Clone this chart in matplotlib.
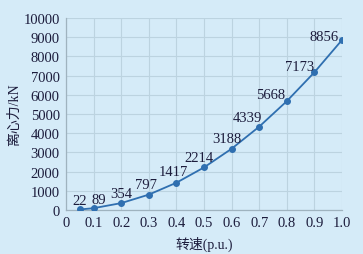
import matplotlib
matplotlib.use('Agg')
import matplotlib.pyplot as plt

speed = [0.05, 0.1, 0.2, 0.3, 0.4, 0.5, 0.6, 0.7, 0.8, 0.9, 1.0]
force = [22, 89, 354, 797, 1417, 2214, 3188, 4339, 5668, 7173, 8856]
xticks = [0, 0.1, 0.2, 0.3, 0.4, 0.5, 0.6, 0.7, 0.8, 0.9, 1.0]
xtick_labels = ['0', '0.1', '0.2', '0.3', '0.4', '0.5', '0.6', '0.7', '0.8', '0.9', '1.0']
yticks = list(range(0, 10001, 1000))

# label offsets in pixels (dx, dy) relative to each point
offsets = [(0, 9), (5, 9), (0, 10), (-3, 10), (-3, 11), (-5, 10),
           (-5, 10), (-12, 9), (-16, 7), (-15, 6), (-18, 4)]

fonts = ['Liberation Serif', 'Noto Sans CJK SC']
plt.rcParams['font.family'] = fonts
bg = '#d5ebf8'
txt = '#1c1c3c'

fig = plt.figure(figsize=(3.63, 2.55), dpi=100, facecolor=bg)
ax = fig.add_axes([0.182, 0.173, 0.76, 0.752], facecolor=bg)

ax.plot(speed, force, color='#2f6fb0', lw=1.3, marker='o', ms=4, zorder=3)
for x, y, (dx, dy) in zip(speed, force, offsets):
    ax.annotate(str(y), (x, y), xytext=(dx, dy), textcoords='offset pixels',
                ha='center', va='center', fontsize=10.5, color=txt)

ax.set_xlim(0, 1.0)
ax.set_ylim(0, 10000)
ax.set_xticks(xticks)
ax.set_xticklabels(xtick_labels)
ax.set_yticks(yticks)
ax.tick_params(length=0, labelsize=10.5, labelcolor=txt, pad=4.5)
ax.grid(True, color='#bcd3e0', lw=0.8)
ax.set_axisbelow(True)
for s in ['top', 'right']:
    ax.spines[s].set_visible(False)
for s in ['left', 'bottom']:
    ax.spines[s].set_color('#9fb3bf')
    ax.spines[s].set_linewidth(0.9)

ax.set_xlabel('转速(p.u.)', fontsize=10, color=txt, labelpad=5)
ax.set_ylabel('离心力/kN', fontsize=10, color=txt, labelpad=2)

fig.savefig('out.png', dpi=100, facecolor=bg)
